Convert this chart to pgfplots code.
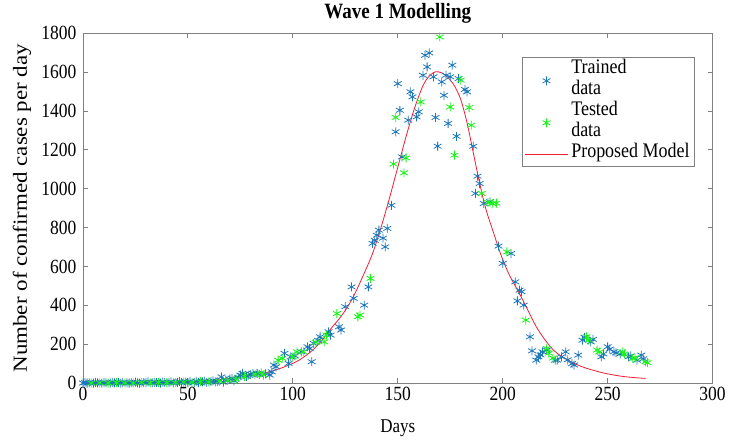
\documentclass[border=0pt]{standalone}
\usepackage{fontspec}
\setmainfont{Liberation Serif}
\usepackage{graphicx}
\usepackage{pgfplots}
\pgfplotsset{compat=1.18}

\definecolor{trainblue}{RGB}{28,118,186}
\definecolor{testgreen}{RGB}{20,245,20}
\definecolor{modelred}{RGB}{240,30,50}
\definecolor{framegray}{RGB}{128,128,128}

\newcommand\tklab[1]{\scalebox{1}[1.15]{#1}}

\pgfplotsset{
    markleg/.style={legend image code/.code={\draw[##1, overlay] plot coordinates {(0.75cm,10.5pt)};}},
    lineleg/.style={legend image code/.code={\draw[##1] (0cm,0cm) -- (1.5cm,0cm);}},
    trainstyle/.style={only marks, mark=asterisk, mark size=4.5pt, color=trainblue, line width=0.8pt},
    teststyle/.style={only marks, mark=asterisk, mark size=4.5pt, color=testgreen, line width=0.8pt},
}

\begin{document}
\begin{tikzpicture}
\begin{axis}[
    scale only axis,
    width=630pt,
    height=350pt,
    xmin=0, xmax=300,
    ymin=0, ymax=1800,
    xtick={0,50,...,300},
    ytick={0,200,...,1800},
    xticklabels={\tklab{0},\tklab{50},\tklab{100},\tklab{150},\tklab{200},\tklab{250},\tklab{300}},
    yticklabels={\tklab{0},\tklab{200},\tklab{400},\tklab{600},\tklab{800},\tklab{1000},\tklab{1200},\tklab{1400},\tklab{1600},\tklab{1800}},
    tick align=inside,
    major tick length=5pt,
    axis line style={framegray, line width=0.8pt},
    every tick/.style={framegray, line width=0.8pt},
    tick label style={font=\fontsize{17.5}{17.5}\selectfont},
    yticklabel style={xshift=-3pt},
    xticklabel style={yshift=-1pt},
    title={\scalebox{1}[1.15]{\textbf{Wave 1 Modelling}}},
    title style={font=\fontsize{19}{19}\selectfont, at={(axis description cs:0.5,1.04)}, anchor=center},
    xlabel={\scalebox{1}[1.15]{Days}},
    xlabel style={font=\fontsize{17}{17}\selectfont, at={(axis description cs:0.5,-0.128)}, anchor=center},
    ylabel={\scalebox{1.15}[1]{Number of confirmed cases per day}},
    every axis y label/.style={font=\fontsize{20}{20}\selectfont, at={(axis description cs:-0.0968,0.5)}, rotate=90, anchor=center},
    clip=false,
    legend style={
        at={(0.698,0.931)}, anchor=north west,
        font=\fontsize{18}{21}\selectfont,
        draw=framegray, line width=0.8pt,
        cells={anchor=west},
        nodes={inner xsep=3pt, inner ysep=0pt, text height=14pt, text depth=7pt},
        inner sep=2pt, row sep=0pt,
    },
]
% trained data
\addplot[trainstyle, forget plot]
coordinates {
(0,0) (1,2) (2,0) (3,1) (5,0) (6,3) (7,1) (9,0) (10,2) (11,1) (13,0) (14,4) (15,1)
(17,2) (18,0) (19,3) (21,1) (22,0) (23,2) (25,5) (26,1) (27,0) (29,3) (30,2) (31,6)
(33,1) (34,4) (35,2) (37,0) (38,5) (39,3) (41,2) (42,6) (43,1) (45,4) (46,7) (47,2)
(49,5) (50,3) (51,8) (53,4) (54,9) (55,2) (57,6) (58,10) (59,4) (61,8) (62,12) (63,6)
(64,8) (66,32) (67,5) (68,15) (70,20) (71,24) (72,12) (74,30) (75,41) (76,50) (78,35)
(79,41) (80,45) (81,50) (83,50) (84,45) (87,48) (89,41) (90,58) (91,93) (92,84)
(96,153) (98,101) (99,135) (101,140) (104,161) (107,187) (108,178) (109,110) (110,204)
(112,220) (113,238) (117,264) (118,247) (122,290) (123,273) (125,393) (128,495)
(129,436) (134,401) (136,495) (138,719) (139,735) (140,761) (141,787) (143,746)
(144,701) (145,796) (147,915) (149,1293) (150,1541) (151,1404) (152,1164) (155,1353)
(156,1499) (157,1473) (159,1370) (160,1396) (162,1584) (163,1687) (164,1627) (165,1699)
(167,1576) (168,1367) (169,1219) (171,1550) (172,1481) (173,1584) (174,1336) (175,1576)
(176,1636) (178,1270) (179,1567) (182,1511) (183,1499) (186,1219) (187,976) (188,1065)
(189,1027) (191,924) (194,933) (198,705) (200,616) (204,667) (206,521) (207,423)
(208,478) (209,470) (210,401) (213,238) (214,166) (216,118) (217,135) (218,145)
(219,161) (221,170) (225,118) (226,118) (228,135) (230,161) (231,120) (233,100)
(234,93) (236,144) (238,221) (239,235) (242,212) (243,225) (247,135) (248,150)
(250,187) (251,175) (253,161) (254,155) (256,150) (260,135) (261,140) (264,118)
(266,144) (267,125)
};
% tested data
\addplot[teststyle, forget plot]
coordinates {
(4,0) (8,1) (12,0) (16,2) (20,1) (24,0) (28,3) (32,1) (36,4) (40,2) (44,3) (48,5)
(52,4) (56,7) (60,6) (65,10) (69,14) (73,20) (77,35) (82,45) (85,53) (86,41) (93,118)
(95,127) (100,135) (102,161) (105,161) (111,210) (115,212) (116,247) (121,358)
(131,341) (132,350) (137,539) (148,1127) (149,1367) (153,1082) (154,1159) (161,1447)
(170,1781) (175,1421) (177,1173) (180,1559) (184,1418) (185,1327) (190,976) (193,930)
(195,924) (197,926) (202,675) (211,324) (221,178) (222,154) (224,129) (240,238)
(241,221) (245,170) (246,160) (257,161) (258,150) (262,127) (263,130) (268,110) (269,105)
};
% model
\addplot[color=modelred, line width=0.8pt, smooth, tension=0.5, forget plot]
coordinates {
(0,2) (20,3) (40,5) (55,10) (62,15) (70,24) (80,38) (86,50) (92,68) (97,88)
(102,112) (106,140) (110,175) (114,222) (118,278) (122,330) (126,390) (130,470)
(134,565) (138,667) (142,800) (146,950) (150,1110) (154,1270) (158,1415) (162,1530)
(165,1580) (168,1602) (171,1596) (174,1572) (177,1530) (180,1460) (183,1340)
(186,1185) (189,1030) (192,895) (195,795) (199,665) (203,560) (208,461) (212,375)
(216,290) (220,225) (224,172) (228,138) (232,112) (236,92) (240,76) (248,52)
(256,36) (262,29) (268,24)
};
% legend
\addlegendimage{empty legend}
\addlegendentry{\tklab{Trained}}
\addlegendimage{trainstyle, markleg}
\addlegendentry{\tklab{data}}
\addlegendimage{empty legend}
\addlegendentry{\tklab{Tested}}
\addlegendimage{teststyle, markleg}
\addlegendentry{\tklab{data}}
\addlegendimage{color=modelred, line width=0.8pt, lineleg}
\addlegendentry{\tklab{Proposed Model}}
\end{axis}
\path (current axis.south west) ++(-83pt,-60pt);
\path (current axis.north east) ++(16pt,33pt);
\end{tikzpicture}
\end{document}
